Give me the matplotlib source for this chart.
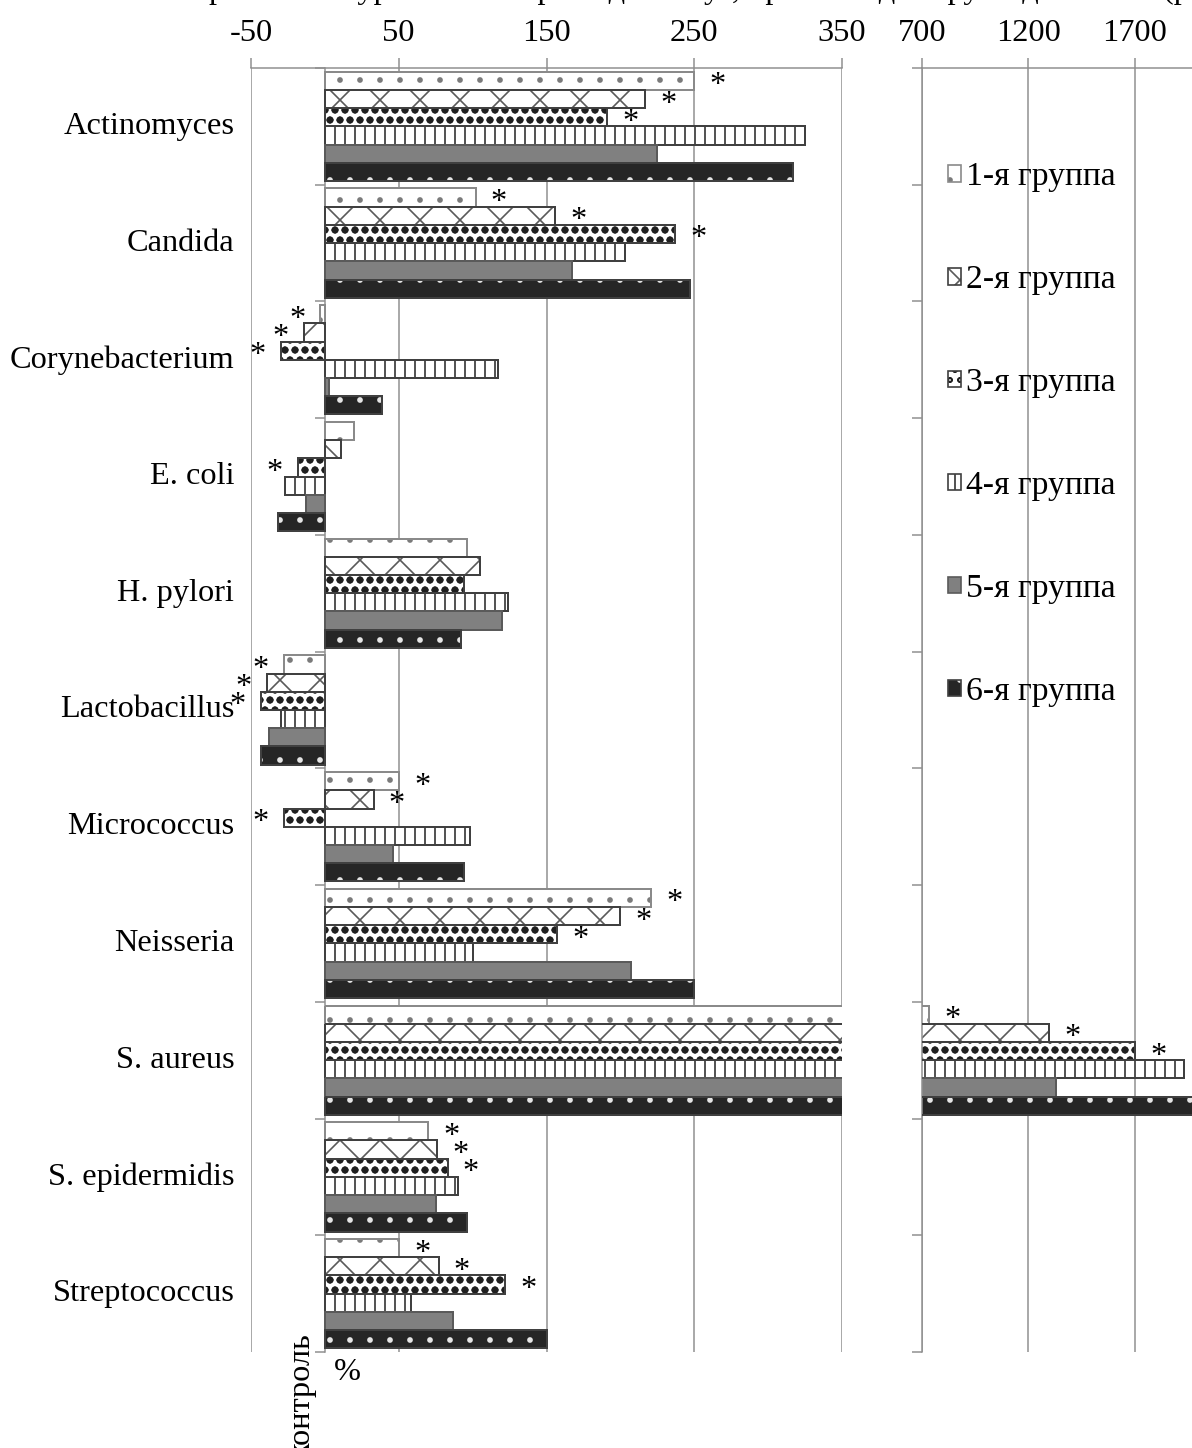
import numpy as np
import matplotlib
matplotlib.use('Agg')
import matplotlib.pyplot as plt
from matplotlib.patches import Patch

plt.rcParams['font.family'] = ['Liberation Serif', 'DejaVu Serif']
plt.rcParams['axes.unicode_minus'] = False

# change vs. control, %, one list per group (categories in order)
categories = ['Actinomyces', 'Candida', 'Corynebacterium', 'E. coli', 'H. pylori',
              'Lactobacillus', 'Micrococcus', 'Neisseria', 'S. aureus',
              'S. epidermidis', 'Streptococcus']
group_names = ['1-я группа', '2-я группа', '3-я группа', '4-я группа',
               '5-я группа', '6-я группа']
group1 = [250, 102, -3, 20, 96, -28, 50, 221, 733, 70, 50]
group2 = [217, 156, -14, 11, 105, -39, 33, 200, 1297, 76, 77]
group3 = [191, 237, -30, -18, 94, -43, -28, 157, 1700, 83, 122]
group4 = [325, 203, 117, -27, 124, -30, 98, 100, 1932, 90, 58]
group5 = [225, 167, 3, -13, 120, -38, 46, 207, 1330, 75, 87]
group6 = [317, 247, 39, -32, 92, -43, 94, 250, 2050, 96, 150]
groups = [group1, group2, group3, group4, group5, group6]

# categories where a group differs significantly (marked with *)
signif1 = [0, 1, 2, 5, 6, 7, 8, 9, 10]
signif2 = [0, 1, 2, 5, 6, 7, 8, 9, 10]
signif3 = [0, 1, 2, 3, 5, 6, 7, 8, 9, 10]
signif = [signif1, signif2, signif3, [], [], []]

left_ticks = [-50, 50, 150, 250, 350]
right_ticks = [700, 1200, 1700]

W, H, DPI = 1192, 1448, 120
fs = 19.4
grid_c = '#8f8f8f'

# face, hatch, hatch colour, outline colour, hatch line width
styles = [
    ('white', '.', '#7a7a7a', '#8a8a8a', 1.0),
    ('white', 'x', '#5a5a5a', '#404040', 1.0),
    ('white', 'oo', '#1f1f1f', '#404040', 1.8),
    ('white', '||', '#333333', '#404040', 1.0),
    ('#808080', '', '#808080', '#5a5a5a', 1.0),
    ('#262626', '.', '#e6e6e6', '#404040', 1.0),
]

fig = plt.figure(figsize=(W / DPI, H / DPI), dpi=DPI)


def px_box(x0, x1, y0, y1):
    return [x0 / W, 1 - y1 / H, (x1 - x0) / W, (y1 - y0) / H]


ax = fig.add_axes(px_box(251, 842, 68, 1352))
ax2 = fig.add_axes(px_box(922, 1192, 68, 1352))

n = len(categories)
pos = np.arange(n)
bh = 0.156

for a in (ax, ax2):
    for j, vals in enumerate(groups):
        face, hatch, hcol, edge, hlw = styles[j]
        y = pos + (j - 2.5) * bh
        with plt.rc_context({'hatch.linewidth': hlw}):
            bars = a.barh(y, vals, height=bh, color=face, edgecolor=hcol,
                          linewidth=0, hatch=hatch, zorder=2)
        if hasattr(bars[0], 'set_hatch_linewidth'):
            for p in bars:
                p.set_hatch_linewidth(hlw)
        a.barh(y, vals, height=bh, color='none', edgecolor=edge,
               linewidth=1.2, zorder=3)
    a.set_ylim(n - 0.5, -0.5)
    a.set_yticks(np.arange(-0.5, n, 1))
    a.set_yticklabels([])
    a.xaxis.set_ticks_position('top')
    a.tick_params(axis='x', direction='out', length=6, width=0.9,
                  color=grid_c, labelsize=fs, pad=6)
    a.tick_params(axis='y', direction='out', length=6, width=0.9, color=grid_c)
    a.grid(axis='x', color=grid_c, linewidth=0.9, zorder=0)
    a.set_axisbelow(True)
    for s in ('bottom', 'right'):
        a.spines[s].set_visible(False)
    for s in ('top', 'left'):
        a.spines[s].set_color(grid_c)
        a.spines[s].set_linewidth(0.9)

ax.set_xlim(-50, 350)
ax.set_xticks(left_ticks)
ax.spines['left'].set_position(('data', 0))
ax2.set_xlim(700, 1968)
ax2.set_xticks(right_ticks)

# category names to the left of the -50 line
for i, name in enumerate(categories):
    ax.annotate(name, xy=(-50, i), xytext=(-10, 0), textcoords='offset points',
                ha='right', va='center', fontsize=fs, annotation_clip=False)

# significance marks next to bar ends
for j, idx in enumerate(signif):
    for i in idx:
        v = groups[j][i]
        a = ax if v <= 350 else ax2
        off = 14 if v >= 0 else -14
        a.annotate('*', xy=(v, i + (j - 2.5) * bh), xytext=(off, -3),
                   textcoords='offset points', ha='center', va='center',
                   fontsize=fs, annotation_clip=False, zorder=5)

handles = []
for face, hatch, hcol, edge, hlw in styles:
    handles.append((Patch(facecolor=face, edgecolor=hcol, hatch=hatch, linewidth=0),
                    Patch(facecolor='none', edgecolor=edge, linewidth=1.0)))
ax2.legend(handles, group_names, loc='upper left', frameon=False,
           bbox_to_anchor=(948 / W, 1 - 162 / H), bbox_transform=fig.transFigure,
           fontsize=20.2, handlelength=0.38, handleheight=0.38, handletextpad=0.15,
           labelspacing=2.15, borderpad=0, borderaxespad=0)

fig.text(302 / W, 1 - 1333 / H, 'контроль', rotation=90, ha='center', va='top',
         fontsize=fs)
fig.text(347 / W, 1 - 1372 / H, '%', ha='center', va='center', fontsize=fs)
fig.text(18 / W, 1 + 2 / H,
         'показателей превышали уровень контроля до 30 сут, при этом '
         'для групп динамика (рисунок 3).',
         ha='left', va='baseline', fontsize=fs)

fig.savefig('out.png', dpi=DPI, facecolor='white')
